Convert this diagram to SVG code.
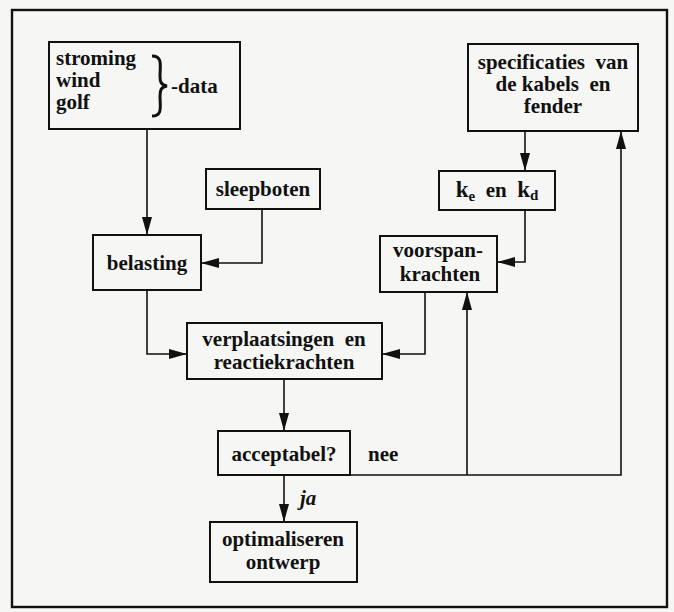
<svg xmlns="http://www.w3.org/2000/svg" width="674" height="612" viewBox="0 0 674 612">
  <style>
    .box { fill: none; stroke: #111; stroke-width: 2; }
    .frame { fill: none; stroke: #111; stroke-width: 2.4; }
    .wire { fill: none; stroke: #111; stroke-width: 1.6; marker-end: url(#head); }
    text { font-family: "Liberation Serif", "Times New Roman", serif; font-weight: bold; font-size: 21px; fill: #111; }
    .c { text-anchor: middle; }
    .sub { font-size: 15px; }
    .k { font-size: 23px; }
  </style>
  <defs>
    <marker id="head" markerUnits="userSpaceOnUse" markerWidth="20" markerHeight="12" refX="18" refY="5" orient="auto">
      <path d="M0,0 L18,5 L0,10 Z" fill="#111"/>
    </marker>
  </defs>

  <rect x="0" y="0" width="674" height="612" fill="#f6f6f4"/>
  <rect class="frame" x="12" y="10" width="655" height="597"/>

  <g id="connectors">
    <path class="wire" d="M147,129 V235"/>
    <path class="wire" d="M262,209 V263 H201"/>
    <path class="wire" d="M147,290 V354 H187"/>
    <path class="wire" d="M525,131 V171"/>
    <path class="wire" d="M525,210 V262 H497"/>
    <path class="wire" d="M425,292 V354 H382"/>
    <path class="wire" d="M284,379 V431"/>
    <path class="wire" d="M284,474 V522"/>
    <path class="wire" d="M350,475 H621 V131"/>
    <path class="wire" d="M467,475 V292"/>
    <text x="368" y="461">nee</text>
    <text x="300" y="505" font-style="italic">ja</text>
  </g>

  <g id="invoerdata">
    <rect class="box" x="49" y="42" width="191" height="87"/>
    <text x="56" y="65">stroming</text>
    <text x="56" y="87">wind</text>
    <text x="56" y="109">golf</text>
    <!-- curly brace grouping the three data sources -->
    <path d="M152,56 C163,56 160,66 160,76 C160,82 161,85 167,86 C161,87 160,90 160,96 C160,106 163,116 152,116" fill="none" stroke="#111" stroke-width="3"/>
    <text x="171" y="93">-data</text>
  </g>

  <g id="specificaties">
    <rect class="box" x="468" y="44" width="170" height="87"/>
    <text class="c" x="553" y="69" xml:space="preserve">specificaties  van</text>
    <text class="c" x="553" y="91" xml:space="preserve">de kabels  en</text>
    <text class="c" x="553" y="113">fender</text>
  </g>

  <g id="stijfheden">
    <rect class="box" x="439" y="171" width="116" height="39"/>
    <text class="c" x="497" y="197"><tspan class="k">k</tspan><tspan class="sub" dy="4">e</tspan><tspan dy="-4" xml:space="preserve">  en  </tspan><tspan class="k">k</tspan><tspan class="sub" dy="3">d</tspan></text>
  </g>

  <g id="sleepboten">
    <rect class="box" x="206" y="169" width="114" height="40"/>
    <text class="c" x="263" y="196">sleepboten</text>
  </g>

  <g id="belasting">
    <rect class="box" x="93" y="235" width="108" height="55"/>
    <text class="c" x="147" y="270">belasting</text>
  </g>

  <g id="voorspankrachten">
    <rect class="box" x="380" y="236" width="117" height="56"/>
    <text class="c" x="438" y="257">voorspan-</text>
    <text class="c" x="440" y="281">krachten</text>
  </g>

  <g id="verplaatsingen">
    <rect class="box" x="187" y="323" width="195" height="56"/>
    <text class="c" x="284" y="346" xml:space="preserve">verplaatsingen  en</text>
    <text class="c" x="284" y="369">reactiekrachten</text>
  </g>

  <g id="acceptabel">
    <rect class="box" x="218" y="431" width="132" height="44"/>
    <text class="c" x="284" y="461">acceptabel?</text>
  </g>

  <g id="optimaliseren">
    <rect class="box" x="210" y="522" width="147" height="60"/>
    <text class="c" x="283" y="546">optimaliseren</text>
    <text class="c" x="283" y="569">ontwerp</text>
  </g>
</svg>
